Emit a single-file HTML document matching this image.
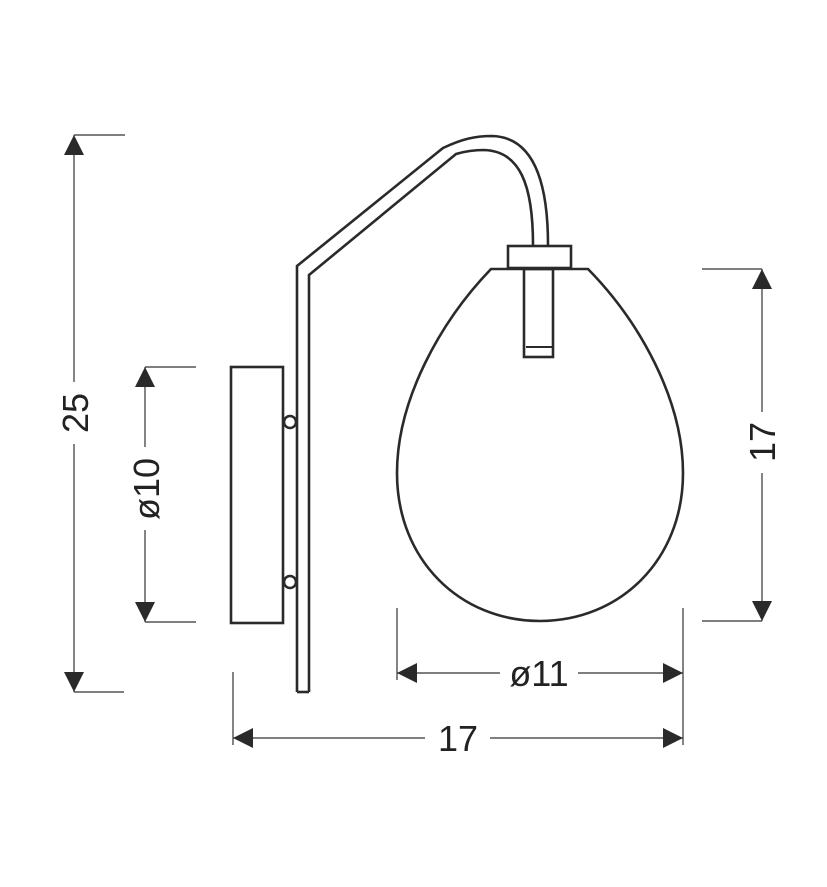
<!DOCTYPE html>
<html><head><meta charset="utf-8"><style>
html,body{margin:0;padding:0;background:#fff;}
svg{display:block}
text{font-family:"Liberation Sans",sans-serif;font-size:36px;fill:#222}
</style></head><body>
<svg width="827" height="887" viewBox="0 0 827 887" xmlns="http://www.w3.org/2000/svg">
<g fill="none" stroke="#2a2a2a" stroke-width="2.6" stroke-linejoin="miter">
  <rect x="231" y="367" width="52" height="256"/>
  <circle cx="290" cy="422" r="6" fill="#fff"/>
  <circle cx="290" cy="582" r="6" fill="#fff"/>
  <path d="M297,692 L297,266 L443,148 C462,139 475,136 492,136 C530,137 548,175 548,245"/>
  <path d="M309,692 L309,275 L456,154 C466,151 474,150 484,150 C520,151 533,185 533,245"/>
  <path d="M297,692 L309,692"/>
  <rect x="508" y="246" width="63" height="22" fill="#fff"/>
  <path d="M491,269 L588,269 C640,322 683,400 683,473 C683,560 620,621 540,621 C460,621 397,560 397,473 C397,400 440,322 491,269 Z"/>
  <rect x="524" y="269" width="29" height="88"/>
  <path d="M526,347 L553,347" stroke-width="2"/>
</g>
<g stroke="#333" stroke-width="1.2" fill="none">
  <path d="M74,135 L125,135 M74,692 L124,692 M74,135 L74,382 M74,444 L74,692"/>
  <path d="M145,367 L196,367 M145,622 L196,622 M145,367 L145,447 M145,530 L145,622"/>
  <path d="M702,269 L762,269 M702,621 L762,621 M762,269 L762,412 M762,473 L762,621"/>
  <path d="M397,608 L397,680 M683,608 L683,745 M397,673 L500,673 M578,673 L683,673"/>
  <path d="M233,672 L233,745 M233,738 L425,738 M490,738 L683,738"/>
</g>
<g fill="#2a2a2a">
  <path d="M74,135 L64,155 L84,155 Z"/><path d="M74,692 L64,672 L84,672 Z"/>
  <path d="M145,367 L135,387 L155,387 Z"/><path d="M145,622 L135,602 L155,602 Z"/>
  <path d="M762,269 L752,289 L772,289 Z"/><path d="M762,621 L752,601 L772,601 Z"/>
  <path d="M397,673 L417,663 L417,683 Z"/><path d="M683,673 L663,663 L663,683 Z"/>
  <path d="M233,738 L253,728 L253,748 Z"/><path d="M683,738 L663,728 L663,748 Z"/>
</g>
<text x="0" y="0" text-anchor="middle" transform="translate(88,413) rotate(-90)">25</text>
<text x="0" y="0" text-anchor="middle" transform="translate(159,489) rotate(-90)">ø10</text>
<text x="0" y="0" text-anchor="middle" transform="translate(775,442) rotate(-90)">17</text>
<text x="539" y="686" text-anchor="middle">ø11</text>
<text x="458" y="751" text-anchor="middle">17</text>
</svg>
</body></html>
